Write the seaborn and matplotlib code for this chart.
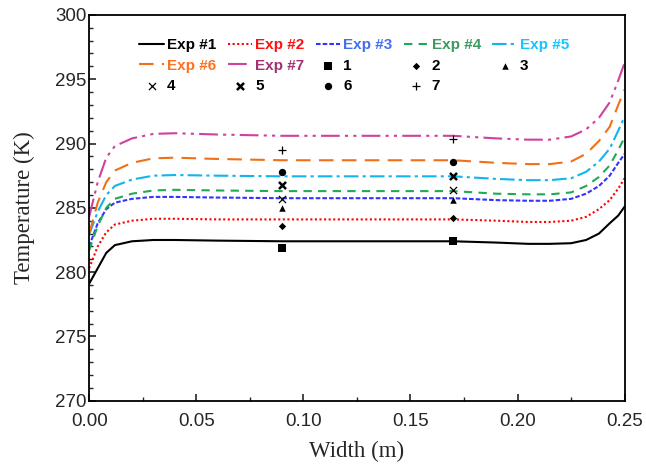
import matplotlib
matplotlib.use("Agg")
import matplotlib.pyplot as plt
from matplotlib.ticker import MultipleLocator
import seaborn as sns
import pandas as pd

# Width positions (m) shared by all simulated profiles
width = [0, 0.004, 0.008, 0.012, 0.02, 0.03, 0.04, 0.06, 0.09, 0.12, 0.15,
         0.17, 0.19, 0.205, 0.215, 0.225, 0.232, 0.238, 0.243, 0.247, 0.25]

exp1 = [279.1, 280.3, 281.5, 282.1, 282.4, 282.5, 282.5, 282.45, 282.4, 282.4, 282.4,
        282.4, 282.3, 282.2, 282.2, 282.25, 282.5, 283.0, 283.8, 284.4, 285.1]
exp2 = [280.3, 282.0, 283.1, 283.7, 284.0, 284.15, 284.15, 284.1, 284.1, 284.1, 284.1,
        284.1, 284.0, 283.9, 283.9, 284.0, 284.3, 284.9, 285.6, 286.5, 287.3]
exp3 = [282.0, 283.8, 284.9, 285.4, 285.7, 285.85, 285.85, 285.8, 285.75, 285.75, 285.75,
        285.75, 285.6, 285.55, 285.55, 285.7, 286.1, 286.7, 287.5, 288.5, 289.2]
exp4 = [281.7, 283.6, 285.0, 285.7, 286.1, 286.35, 286.4, 286.35, 286.3, 286.3, 286.3,
        286.3, 286.1, 286.05, 286.05, 286.2, 286.7, 287.4, 288.3, 289.5, 290.5]
exp5 = [282.9, 284.7, 286.0, 286.7, 287.2, 287.5, 287.55, 287.5, 287.45, 287.45, 287.45,
        287.45, 287.25, 287.15, 287.15, 287.3, 287.8, 288.6, 289.6, 291.0, 292.1]
exp6 = [283.0, 285.4, 287.0, 287.9, 288.5, 288.85, 288.9, 288.8, 288.7, 288.7, 288.7,
        288.7, 288.5, 288.4, 288.4, 288.6, 289.2, 290.2, 291.3, 293.0, 294.2]
exp7 = [284.3, 287.0, 288.9, 289.8, 290.4, 290.75, 290.8, 290.7, 290.6, 290.6, 290.6,
        290.6, 290.4, 290.3, 290.3, 290.55, 291.1, 292.0, 293.2, 294.9, 296.3]

# Measured points at two positions
meas_x = [0.09, 0.17]
meas = {
    "1": [281.9, 282.4],
    "2": [283.6, 284.2],
    "3": [285.0, 285.6],
    "4": [285.65, 286.35],
    "5": [286.8, 287.45],
    "6": [287.75, 288.55],
    "7": [289.5, 290.35],
}

sim = {"Exp #1": exp1, "Exp #2": exp2, "Exp #3": exp3, "Exp #4": exp4,
       "Exp #5": exp5, "Exp #6": exp6, "Exp #7": exp7}

line_colors = ["#000000", "#FF0000", "#3333FF", "#1FAA55", "#12B4F0", "#F07018", "#D0409E"]
text_colors = ["#000000", "#FF1010", "#4470F0", "#3C9A60", "#18C4FF", "#FF7020", "#A03470"]
line_styles = ["-", (0, (1, 1.2)), (0, (2.2, 1)), (0, (4, 3)), (0, (7, 2, 1.5, 2)),
               (0, (7, 4)), (0, (9, 2.5, 1.5, 2.5, 1.5, 2.5))]
markers = {"1": "s", "2": "D", "3": "^", "4": "x", "5": "x", "6": "o", "7": "+"}
msizes = {"1": 28, "2": 14, "3": 22, "4": 26, "5": 26, "6": 28, "7": 30}
mwidths = {"1": 0, "2": 0, "3": 0, "4": 0.9, "5": 1.8, "6": 0, "7": 0.9}

sns.set_style("ticks")
plt.rcParams["font.family"] = ["Liberation Sans", "DejaVu Sans"]

fig = plt.figure(figsize=(6.46, 4.66), dpi=100)
ax = fig.add_axes([0.138, 0.14, 0.829, 0.828])

for (name, vals), c, ls in zip(sim.items(), line_colors, line_styles):
    df = pd.DataFrame({"x": width, "y": vals})
    sns.lineplot(data=df, x="x", y="y", color=c, linestyle=ls, linewidth=1.5,
                 label=name, ax=ax)

for name, vals in meas.items():
    m = markers[name]
    if m in ("x", "+"):
        sns.scatterplot(x=meas_x, y=vals, marker=m, color="black", s=msizes[name],
                        linewidth=mwidths[name], label=name, ax=ax, zorder=5)
    else:
        sns.scatterplot(x=meas_x, y=vals, marker=m, color="black", s=msizes[name],
                        edgecolor="black", linewidth=0, label=name, ax=ax, zorder=5)

ax.set_xlim(0, 0.25)
ax.set_ylim(270, 300)
ax.xaxis.set_major_locator(MultipleLocator(0.05))
ax.xaxis.set_minor_locator(MultipleLocator(0.025))
ax.yaxis.set_major_locator(MultipleLocator(5))
ax.yaxis.set_minor_locator(MultipleLocator(1))
ax.xaxis.set_major_formatter(plt.FormatStrFormatter("%.2f"))
ax.tick_params(which="major", direction="in", length=5, width=1.2, labelsize=13.5,
               top=False, right=False)
ax.tick_params(axis="x", which="major", pad=9)
ax.tick_params(axis="y", which="major", pad=2)
ax.tick_params(which="minor", direction="in", length=3, width=1.0, top=False, right=False)
for sp in ax.spines.values():
    sp.set_linewidth(1.3)
    sp.set_color("black")

ax.set_xlabel("Width (m)", family="Liberation Serif", fontsize=16.5, labelpad=8)
ax.set_ylabel("Temperature (K)", family="Liberation Serif", fontsize=16.5, labelpad=14)

handles, labels = ax.get_legend_handles_labels()
lookup = dict(zip(labels, handles))
order = ["Exp #1", "Exp #6", "4",
         "Exp #2", "Exp #7", "5",
         "Exp #3", "1", "6",
         "Exp #4", "2", "7",
         "Exp #5", "3"]
leg = ax.legend([lookup[k] for k in order], order, ncol=5, loc="upper center",
                bbox_to_anchor=(0.495, 0.975), frameon=False, handlelength=1.6,
                handletextpad=0.2, columnspacing=0.75, labelspacing=0.42,
                prop={"weight": "bold", "size": 11})
tcol = dict(zip(sim.keys(), text_colors))
for t in leg.get_texts():
    t.set_color(tcol.get(t.get_text(), "black"))

fig.savefig("out.png", dpi=100)
